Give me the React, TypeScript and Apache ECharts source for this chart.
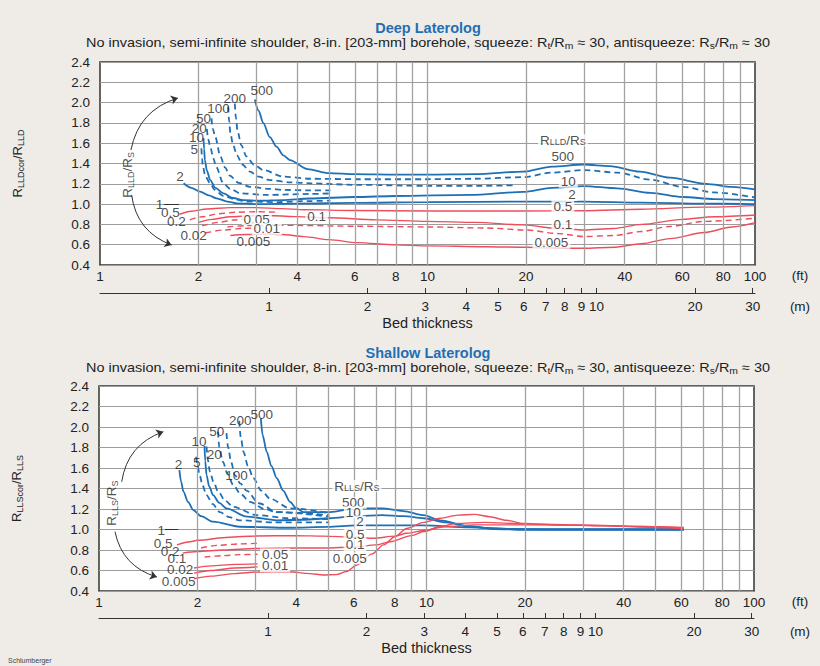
import React, { useEffect, useRef } from 'react';
import * as echarts from 'echarts';

const FONT = '"Liberation Sans", Arial, Helvetica, sans-serif';
const BLUE = '#1f6fb5';
const RED = '#ee4d5b';
const INK = '#222222';
const PAGE_BG = '#efece8';

// ---------- axes ----------
const FT_MIN = 1;
const FT_MAX = 100;
const FT_LABELS = [1, 2, 4, 6, 8, 10, 20, 40, 60, 80, 100];
const FT_GRID = [2, 3, 4, 5, 6, 7, 8, 9, 10, 20, 30, 40, 50, 60, 70, 80, 90];
const M_TICKS = [1, 2, 3, 4, 5, 6, 7, 8, 9, 10, 20, 30];
const FT_PER_M = 3.28084;
const Y_MIN = 0.4;
const Y_MAX = 2.4;
const Y_STEP = 0.2;

type Pt = [number, number];

// ---------- Deep Laterolog: [bed thickness (ft), R_LLDcor/R_LLD] ----------
const LLD_500: Pt[] = [[2.97, 2.03], [3.05, 1.92], [3.15, 1.8], [3.3, 1.66], [3.46, 1.566], [3.63, 1.48], [3.8, 1.434], [4.3, 1.345], [5, 1.305], [6, 1.295], [8, 1.29], [10, 1.29], [14, 1.295], [19.6, 1.32], [24, 1.37], [30, 1.39], [36, 1.375], [44.5, 1.32], [55, 1.26], [71, 1.2], [85, 1.17], [100, 1.145]];
const LLD_200: Pt[] = [[2.58, 1.99], [2.6, 1.85], [2.63, 1.72], [2.7, 1.58], [2.8, 1.47], [2.95, 1.39], [3.15, 1.336], [3.63, 1.27], [4.4, 1.25], [6, 1.245], [10, 1.245], [14, 1.25], [19.6, 1.265], [24, 1.31], [30, 1.335], [38, 1.31], [48, 1.24], [60, 1.17], [75, 1.115], [100, 1.065]];
const LLD_100: Pt[] = [[2.46, 1.96], [2.48, 1.82], [2.5, 1.7], [2.55, 1.58], [2.62, 1.48], [2.72, 1.39], [2.87, 1.32], [3.05, 1.27], [3.3, 1.237], [3.8, 1.215], [4.4, 1.205], [6, 1.19], [10, 1.18], [14, 1.18], [18.5, 1.185]];
const LLD_50: Pt[] = [[2.19, 1.845], [2.21, 1.74], [2.25, 1.66], [2.33, 1.47], [2.41, 1.36], [2.49, 1.28], [2.65, 1.21], [2.87, 1.17], [3.3, 1.15], [3.63, 1.14], [4.4, 1.135], [5.05, 1.135]];
const LLD_20: Pt[] = [[2.12, 1.74], [2.14, 1.64], [2.17, 1.565], [2.22, 1.45], [2.26, 1.37], [2.38, 1.205], [2.5, 1.15], [2.68, 1.106], [3.23, 1.09], [4.38, 1.1], [5.05, 1.105]];
const LLD_10: Pt[] = [[2.07, 1.65], [2.08, 1.54], [2.09, 1.434], [2.12, 1.33], [2.17, 1.237], [2.25, 1.16], [2.38, 1.106], [2.55, 1.06], [2.74, 1.04], [3.08, 1.033], [3.6, 1.04], [4.38, 1.055], [6, 1.07], [8, 1.08], [13.5, 1.09], [19.6, 1.12], [24, 1.16], [30, 1.178], [38, 1.155], [48, 1.11], [60, 1.07], [75, 1.05], [100, 1.04]];
const LLD_5: Pt[] = [[2.04, 1.55], [2.05, 1.45], [2.06, 1.37], [2.1, 1.27], [2.17, 1.205], [2.24, 1.14], [2.38, 1.08], [2.6, 1.045], [2.8, 1.025], [3.5, 1.02], [4.4, 1.03], [5.05, 1.035]];
const LLD_2: Pt[] = [[1.8, 1.205], [1.9, 1.16], [2.02, 1.122], [2.15, 1.085], [2.27, 1.057], [2.45, 1.025], [2.61, 1.008], [3, 1.0], [4, 1.005], [6, 1.012], [10, 1.02], [20, 1.025], [30, 1.025], [45, 1.015], [70, 1.005], [100, 1.0]];
const LLD_0_5: Pt[] = [[1.75, 0.9], [1.9, 0.93], [2.12, 0.952], [2.5, 0.965], [3, 0.965], [3.6, 0.955], [4.2, 0.945], [6, 0.937], [10, 0.932], [20, 0.932], [30, 0.935], [45, 0.95], [70, 0.97], [100, 0.985]];
const LLD_0_2: Pt[] = [[1.88, 0.845], [2.05, 0.875], [2.3, 0.905], [2.6, 0.92], [3.0, 0.925], [3.5, 0.92]];
const LLD_0_1: Pt[] = [[2.0, 0.82], [2.2, 0.85], [2.5, 0.875], [2.9, 0.885], [3.4, 0.885], [4, 0.877], [5, 0.865], [7, 0.845], [10, 0.83], [14, 0.82], [19.6, 0.795], [25, 0.76], [30, 0.745], [37, 0.76], [45, 0.8], [60, 0.85], [75, 0.875], [100, 0.893]];
const LLD_0_05: Pt[] = [[2.05, 0.785], [2.3, 0.82], [2.55, 0.843], [2.75, 0.852]];
const LLD_0_02: Pt[] = [[2.1, 0.715], [2.4, 0.745], [2.7, 0.76], [3.0, 0.765]];
const LLD_0_01: Pt[] = [[2.45, 0.775], [2.8, 0.788], [3.3, 0.79], [4, 0.79], [6, 0.782], [10, 0.775], [15, 0.765], [20, 0.745], [25, 0.71], [30, 0.68], [37, 0.69], [45, 0.73], [55, 0.78], [70, 0.83], [100, 0.86]];
const LLD_0_005: Pt[] = [[2.5, 0.69], [2.8, 0.7], [3.2, 0.705], [3.6, 0.7], [4.2, 0.68], [5, 0.65], [6.1, 0.62], [8, 0.598], [10, 0.588], [15, 0.58], [20, 0.575], [30, 0.565], [37, 0.575], [45, 0.61], [55, 0.66], [70, 0.72], [85, 0.775], [100, 0.817]];

// ---------- Shallow Laterolog: [bed thickness (ft), R_LLScor/R_LLS] ----------
const LLS_500: Pt[] = [[3.12, 2.085], [3.16, 1.92], [3.25, 1.76], [3.36, 1.62], [3.49, 1.5], [3.65, 1.38], [3.83, 1.27], [4.0, 1.21], [4.21, 1.17], [5.07, 1.17], [6.13, 1.207], [7.3, 1.207], [8.5, 1.18], [9.8, 1.14], [11, 1.09], [13.5, 1.03], [16, 1.005], [20, 1.0], [30, 1.0], [45, 1.0], [61, 1.0]];
const LLS_200: Pt[] = [[2.68, 2.06], [2.71, 1.9], [2.76, 1.76], [2.85, 1.62], [2.96, 1.5], [3.13, 1.38], [3.33, 1.3], [3.83, 1.207], [5.05, 1.16]];
const LLS_100: Pt[] = [[2.45, 1.94], [2.48, 1.8], [2.53, 1.66], [2.6, 1.53], [2.7, 1.45], [2.82, 1.38], [3.08, 1.256], [3.49, 1.17], [5.05, 1.125]];
const LLS_50: Pt[] = [[2.31, 1.955], [2.33, 1.8], [2.39, 1.66], [2.47, 1.54], [2.57, 1.434], [2.7, 1.35], [2.89, 1.27], [3.2, 1.2], [3.49, 1.17], [5.05, 1.14]];
const LLS_20: Pt[] = [[2.13, 1.81], [2.15, 1.68], [2.18, 1.564], [2.24, 1.46], [2.31, 1.37], [2.43, 1.28], [2.57, 1.22], [3.03, 1.14], [3.8, 1.11], [5.05, 1.1]];
const LLS_10: Pt[] = [[2.1, 1.815], [2.11, 1.67], [2.13, 1.53], [2.17, 1.42], [2.23, 1.336], [2.33, 1.26], [2.45, 1.207], [2.83, 1.125], [3.49, 1.09], [4.2, 1.095], [5.07, 1.11], [6.1, 1.13], [7.3, 1.14], [8.5, 1.13], [9.8, 1.11], [11.5, 1.07], [13.5, 1.03], [16, 1.01], [20, 1.0], [61, 1.0]];
const LLS_5: Pt[] = [[1.98, 1.71], [2.0, 1.62], [2.03, 1.53], [2.07, 1.43], [2.13, 1.336], [2.22, 1.25], [2.34, 1.17], [2.5, 1.12], [2.69, 1.09], [3.4, 1.07], [5.05, 1.07]];
const LLS_2: Pt[] = [[1.76, 1.58], [1.78, 1.47], [1.81, 1.37], [1.87, 1.27], [1.94, 1.19], [2.05, 1.13], [2.23, 1.076], [2.69, 1.027], [3.83, 1.017], [5, 1.025], [6.1, 1.04], [9.8, 1.04], [13.5, 1.02], [18, 1.005], [25, 1.0], [61, 1.0]];
const LLS_0_5: Pt[] = [[1.73, 0.85], [1.9, 0.88], [2.0, 0.895], [2.5, 0.925], [3.0, 0.937], [4, 0.94], [4.84, 0.935], [6, 0.925], [6.9, 0.915], [8, 0.935], [8.7, 0.963], [10, 0.995], [11.2, 1.025], [14, 1.045], [20, 1.045], [30, 1.04], [45, 1.03], [61, 1.02]];
const LLS_0_2: Pt[] = [[2.05, 0.82], [2.3, 0.845], [2.7, 0.86], [3.05, 0.865]];
const LLS_0_1: Pt[] = [[1.8, 0.77], [2.0, 0.785], [2.4, 0.8], [3, 0.815], [4, 0.82], [4.84, 0.82], [6.1, 0.83], [7, 0.85], [7.75, 0.88], [9, 0.94], [9.8, 0.98], [11, 1.03], [12.4, 1.06], [15, 1.07], [20, 1.055], [30, 1.045], [45, 1.03], [61, 1.015]];
const LLS_0_05: Pt[] = [[2.1, 0.73], [2.4, 0.745], [2.7, 0.755], [3.05, 0.758]];
const LLS_0_02: Pt[] = [[1.95, 0.625], [2.2, 0.645], [2.6, 0.66], [3.05, 0.665]];
const LLS_0_01: Pt[] = [[1.95, 0.575], [2.2, 0.6], [2.6, 0.625], [3.05, 0.635]];
const LLS_0_005: Pt[] = [[1.95, 0.52], [2.2, 0.545], [2.6, 0.57], [3.05, 0.585], [3.8, 0.588], [4.4, 0.57], [4.84, 0.556], [5.3, 0.56], [5.7, 0.59], [6.13, 0.654], [6.8, 0.76], [7.4, 0.85], [8.0, 0.93], [8.7, 1.01], [9.8, 1.07], [11, 1.11], [12.5, 1.14], [14, 1.148], [15.6, 1.125], [17.5, 1.09], [19.8, 1.06], [25, 1.045], [35, 1.035], [45, 1.025], [61, 1.01]];

// ---------- curve labels: [ft, ratio, text, white background] ----------
type Lab = [number, number, string, number];
const LLD_LABELS: Lab[] = [
  [3.12, 2.12, '500', 0], [2.58, 2.04, '200', 0], [2.3, 1.944, '100', 0], [2.07, 1.845, '50', 0],
  [2.01, 1.747, '20', 0], [1.97, 1.654, '10', 0], [1.94, 1.54, '5', 0], [1.755, 1.27, '2', 0],
  [1.52, 1.0, '1', 0], [1.64, 0.92, '0.5', 0], [1.71, 0.827, '0.2', 0], [1.93, 0.695, '0.02', 0],
  [3.01, 0.853, '0.05', 1], [4.59, 0.876, '0.1', 1], [3.23, 0.755, '0.01', 1], [2.94, 0.636, '0.005', 0],
  [25.9, 1.63, 'R{s|LLD}/R{s|S}', 1], [25.9, 1.467, '500', 1], [26.9, 1.22, '10', 1], [27.6, 1.09, '2', 1],
  [25.9, 0.98, '0.5', 1], [25.9, 0.8, '0.1', 1], [23.9, 0.62, '0.005', 1],
];
const LLS_LABELS: Lab[] = [
  [3.14, 2.124, '500', 0], [2.7, 2.06, '200', 0], [2.29, 1.96, '50', 0], [2.02, 1.863, '10', 0],
  [2.25, 1.733, '20', 0], [1.99, 1.656, '5', 0], [1.75, 1.636, '2', 0], [2.63, 1.53, '100', 0],
  [1.55, 0.995, '1', 0], [1.57, 0.865, '0.5', 0], [1.65, 0.783, '0.2', 0], [1.73, 0.719, '0.1', 0],
  [1.77, 0.612, '0.02', 0], [1.75, 0.49, '0.005', 0], [3.45, 0.758, '0.05', 1], [3.45, 0.644, '0.01', 1],
  [6.13, 1.424, 'R{s|LLS}/R{s|S}', 1], [5.98, 1.26, '500', 1], [5.98, 1.168, '10', 1], [6.27, 1.076, '2', 1],
  [6.05, 0.953, '0.5', 1], [6.05, 0.849, '0.1', 1], [5.83, 0.719, '0.005', 1],
];
const LLD_SIDE_LABEL: Pt = [1.217, 1.287];
const LLS_SIDE_LABEL: Pt = [1.093, 1.258];
// curved arrows: start, end, curveness
const LLD_ARROWS: [Pt, Pt, number][] = [[[1.243, 1.533], [1.73, 2.045], 0.3], [[1.249, 1.09], [1.655, 0.597], -0.3]];
const LLS_ARROWS: [Pt, Pt, number][] = [[[1.173, 1.466], [1.572, 1.954], 0.3], [[1.119, 0.979], [1.503, 0.537], -0.3]];
const LLD_LEADER: Pt[] = [[1.567, 1.0], [1.743, 1.0]];
const LLS_LEADER: Pt[] = [[1.59, 1.0], [1.746, 1.0]];

type Curve = { data: Pt[]; color: string; dashed: boolean };
const LLD_CURVES: Curve[] = [
  { data: LLD_500, color: BLUE, dashed: false }, { data: LLD_200, color: BLUE, dashed: true },
  { data: LLD_100, color: BLUE, dashed: true }, { data: LLD_50, color: BLUE, dashed: true },
  { data: LLD_20, color: BLUE, dashed: true }, { data: LLD_10, color: BLUE, dashed: false },
  { data: LLD_5, color: BLUE, dashed: true }, { data: LLD_2, color: BLUE, dashed: false },
  { data: LLD_0_5, color: RED, dashed: false }, { data: LLD_0_2, color: RED, dashed: true },
  { data: LLD_0_1, color: RED, dashed: false }, { data: LLD_0_05, color: RED, dashed: true },
  { data: LLD_0_02, color: RED, dashed: true }, { data: LLD_0_01, color: RED, dashed: true },
  { data: LLD_0_005, color: RED, dashed: false },
];
const LLS_CURVES: Curve[] = [
  { data: LLS_500, color: BLUE, dashed: false }, { data: LLS_200, color: BLUE, dashed: true },
  { data: LLS_100, color: BLUE, dashed: true }, { data: LLS_50, color: BLUE, dashed: true },
  { data: LLS_20, color: BLUE, dashed: true }, { data: LLS_10, color: BLUE, dashed: false },
  { data: LLS_5, color: BLUE, dashed: true }, { data: LLS_2, color: BLUE, dashed: false },
  { data: LLS_0_5, color: RED, dashed: false }, { data: LLS_0_2, color: RED, dashed: true },
  { data: LLS_0_1, color: RED, dashed: false }, { data: LLS_0_05, color: RED, dashed: true },
  { data: LLS_0_02, color: RED, dashed: false }, { data: LLS_0_01, color: RED, dashed: false },
  { data: LLS_0_005, color: RED, dashed: false },
];

const SUB = { fontSize: 9, lineHeight: 9, verticalAlign: 'bottom', fontFamily: FONT, fontWeight: 'normal', color: INK, fill: INK };
const RICH = { s: SUB };

const log10 = (v: number) => Math.log10(v);
const pow10Label = (v: number) => String(Math.round(Math.pow(10, v)));

function xAxes(p: number, meterOffset: number) {
  return [
    { type: 'log', gridIndex: p, logBase: 10, min: FT_MIN, max: FT_MAX, show: false },
    {
      type: 'value', gridIndex: p, min: log10(FT_MIN), max: log10(FT_MAX), position: 'bottom',
      axisLine: { show: false, onZero: false }, axisTick: { show: false }, splitLine: { show: false },
      axisLabel: { customValues: FT_LABELS.map(log10), formatter: pow10Label, fontSize: 13.5, fontFamily: FONT, color: INK, margin: 4 },
    },
    {
      type: 'value', gridIndex: p, min: log10(FT_MIN / FT_PER_M), max: log10(FT_MAX / FT_PER_M),
      position: 'bottom', offset: meterOffset,
      axisLine: { show: true, onZero: false, lineStyle: { color: '#333', width: 1 } },
      axisTick: { show: true, inside: true, length: 5, customValues: M_TICKS.map(log10), lineStyle: { color: '#333', width: 1 } },
      splitLine: { show: false },
      axisLabel: { customValues: M_TICKS.map(log10), formatter: pow10Label, fontSize: 13.5, fontFamily: FONT, color: INK, margin: 6 },
      name: 'Bed thickness', nameLocation: 'middle', nameGap: 22,
      nameTextStyle: { fontSize: 14.5, fontFamily: FONT, color: INK },
    },
  ];
}

function yAxis(p: number, name: string) {
  return {
    type: 'value', gridIndex: p, min: Y_MIN, max: Y_MAX, interval: Y_STEP,
    axisLine: { show: false }, axisTick: { show: false },
    splitLine: { show: true, lineStyle: { color: '#9c9c9c', width: 1 } },
    axisLabel: { formatter: (v: number) => v.toFixed(1), fontSize: 13.5, fontFamily: FONT, color: INK, margin: 10 },
    name, nameLocation: 'middle', nameRotate: 90, nameGap: 75,
    nameTextStyle: { fontSize: 13, fontFamily: FONT, fontWeight: 'normal', color: INK, lineHeight: 15, rich: RICH },
  };
}

function panelSeries(p: number, curves: Curve[], labels: Lab[], side: Pt, sideText: string, arrows: [Pt, Pt, number][], leader: Pt[]) {
  const xi = p * 3;
  const yi = p;
  const out: any[] = [];
  out.push({
    type: 'line', xAxisIndex: xi, yAxisIndex: yi, data: [[FT_MIN, Y_MIN]], symbol: 'none', showSymbol: false,
    lineStyle: { width: 0 }, silent: true, z: 1,
    markLine: {
      silent: true, symbol: ['none', 'none'], label: { show: false },
      lineStyle: { color: '#a2a2a2', width: 1.3, type: 'solid' },
      data: FT_GRID.map((v) => ({ xAxis: v })),
    },
  });
  curves.forEach((c) => {
    out.push({
      type: 'line', xAxisIndex: xi, yAxisIndex: yi, data: c.data, symbol: 'none', showSymbol: false,
      smooth: 0.3, smoothMonotone: 'x', silent: true, z: 3,
      lineStyle: { color: c.color, width: c.color === BLUE ? 1.8 : 1.4, type: c.dashed ? [6, 4] : 'solid' },
    });
  });
  out.push({
    type: 'lines', coordinateSystem: 'cartesian2d', xAxisIndex: xi, yAxisIndex: yi, silent: true, z: 4,
    symbol: ['none', 'arrow'], symbolSize: 7,
    lineStyle: { color: '#333', width: 1, opacity: 1 },
    data: arrows.map(([a, b, c]) => ({ coords: [a, b], lineStyle: { curveness: c } })),
  });
  out.push({
    type: 'lines', coordinateSystem: 'cartesian2d', xAxisIndex: xi, yAxisIndex: yi, silent: true, z: 4,
    symbol: ['none', 'none'], lineStyle: { color: '#333', width: 1, opacity: 1 },
    data: [{ coords: leader }],
  });
  out.push({
    type: 'scatter', xAxisIndex: xi, yAxisIndex: yi, silent: true, z: 6, symbolSize: 1,
    itemStyle: { color: 'rgba(0,0,0,0)' },
    label: {
      show: true, position: 'inside', fontSize: 13.5, fontFamily: FONT, color: INK, lineHeight: 12, rich: RICH,
    },
    data: [
      ...labels.map(([x, y, t, bg]) => ({
        value: [x, y],
        label: { formatter: t, backgroundColor: bg ? '#ffffff' : 'transparent', padding: bg ? [0, 2] : 0 },
      })),
      { value: side, label: { formatter: sideText, rotate: 90, lineHeight: 15 } },
    ],
  });
  return out;
}

function txt(x: number, y: number, text: string, extra: any = {}, el: any = {}) {
  return {
    type: 'text', x, y, silent: true, ...el,
    style: {
      text, fontSize: 12.5, fontFamily: FONT, fill: INK, textAlign: 'center', textVerticalAlign: 'middle',
      lineHeight: 15, rich: RICH, ...extra,
    },
  };
}

const SUBTITLE = 'No invasion, semi-infinite shoulder, 8-in. [203-mm] borehole, squeeze: R{s|t}/R{s|m} ≈ 30, antisqueeze: R{s|s}/R{s|m} ≈ 30';

function buildOption() {
  return {
    animation: false,
    backgroundColor: PAGE_BG,
    textStyle: { fontFamily: FONT },
    grid: [
      { left: 100, top: 62, width: 655, height: 203, show: true, backgroundColor: '#ffffff', borderColor: '#333', borderWidth: 1.5 },
      { left: 99, top: 386, width: 655, height: 205, show: true, backgroundColor: '#ffffff', borderColor: '#333', borderWidth: 1.5 },
    ],
    xAxis: [...xAxes(0, 28), ...xAxes(1, 27)],
    yAxis: [yAxis(0, 'R{s|LLDcor}/R{s|LLD}'), yAxis(1, 'R{s|LLScor}/R{s|LLS}')],
    series: [
      ...panelSeries(0, LLD_CURVES, LLD_LABELS, LLD_SIDE_LABEL, 'R{s|LLD}/R{s|S}', LLD_ARROWS, LLD_LEADER),
      ...panelSeries(1, LLS_CURVES, LLS_LABELS, LLS_SIDE_LABEL, 'R{s|LLS}/R{s|S}', LLS_ARROWS, LLS_LEADER),
    ],
    graphic: [
      txt(428, 28, 'Deep Laterolog', { fontSize: 14.5, fontWeight: 'bold', fill: BLUE }),
      txt(428, 43, SUBTITLE, {}, { scaleX: 1.155 }),
      txt(428, 353, 'Shallow Laterolog', { fontSize: 14.5, fontWeight: 'bold', fill: BLUE }),
      txt(428, 368, SUBTITLE, {}, { scaleX: 1.155 }),
      txt(800, 275, '(ft)', { fontSize: 13.5 }),
      txt(800, 306, '(m)', { fontSize: 13.5 }),
      txt(800, 601, '(ft)', { fontSize: 13.5 }),
      txt(800, 631, '(m)', { fontSize: 13.5 }),
      txt(8, 660, 'Schlumberger', { fontSize: 7, textAlign: 'left', fill: '#444' }),
    ],
  };
}

export default function App() {
  const ref = useRef<HTMLDivElement>(null);
  useEffect(() => {
    document.body.style.margin = '0';
    document.body.style.background = PAGE_BG;
    const chart = echarts.init(ref.current as HTMLDivElement, undefined, { renderer: 'svg' });
    chart.setOption(buildOption() as any);
    return () => chart.dispose();
  }, []);
  return <div ref={ref} style={{ position: 'fixed', left: 0, top: 0, width: 820, height: 666 }} />;
}
